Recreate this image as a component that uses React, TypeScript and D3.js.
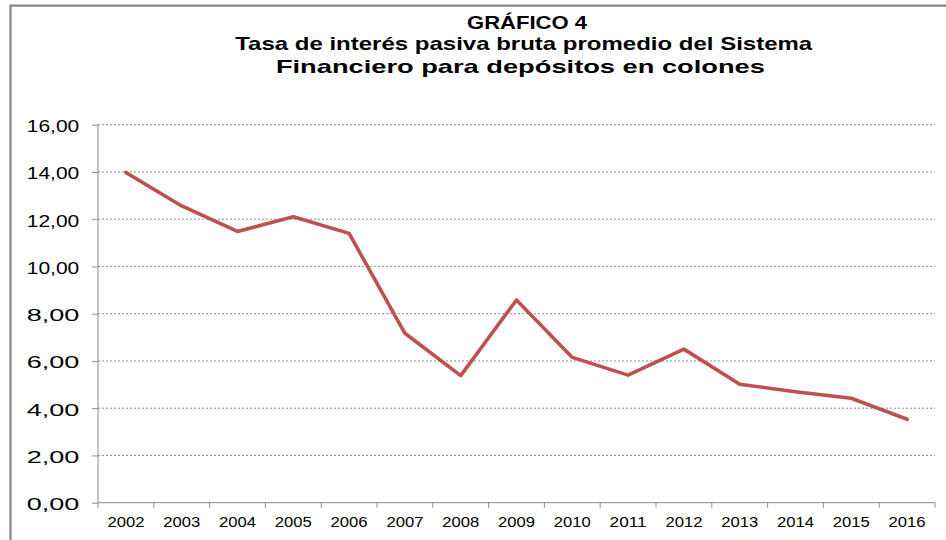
import React, { useEffect, useRef } from 'react';
import * as d3 from 'd3';

const years = ['2002', '2003', '2004', '2005', '2006', '2007', '2008', '2009', '2010', '2011', '2012', '2013', '2014', '2015', '2016'];
const tasa = [13.98, 12.56, 11.48, 12.1, 11.4, 7.17, 5.38, 8.58, 6.15, 5.4, 6.5, 5.01, 4.7, 4.42, 3.53];
const yTicks = [0, 2, 4, 6, 8, 10, 12, 14, 16];
const titleLines = [
  'GRÁFICO 4',
  'Tasa de interés pasiva bruta promedio del Sistema',
  'Financiero para depósitos en colones',
];

const App = () => {
  const svgRef = useRef<SVGSVGElement>(null);

  useEffect(() => {
    const svg = d3.select(svgRef.current);
    svg.selectAll('*').remove();

    const width = 946;
    const height = 540;
    const plot = { left: 98, right: 935, top: 124.7, bottom: 502.7 };

    svg.attr('width', width).attr('height', height);

    // marco del gráfico
    svg.append('path')
      .attr('d', `M10.5,${height} L10.5,5.7 L${width},5.7`)
      .attr('fill', 'none')
      .attr('stroke', '#878787')
      .attr('stroke-width', 2.2);

    // títulos
    const titleSpecs = [
      { x: 527, y: 29, len: 120 },
      { x: 523.7, y: 49.5, len: 577 },
      { x: 520.4, y: 72.7, len: 489 },
    ];
    titleLines.forEach((t, i) => {
      svg.append('text')
        .attr('x', titleSpecs[i].x)
        .attr('y', titleSpecs[i].y)
        .attr('text-anchor', 'middle')
        .attr('font-family', 'Liberation Sans, Arial, sans-serif')
        .attr('font-weight', 'bold')
        .attr('font-size', 18.5)
        .attr('textLength', titleSpecs[i].len)
        .attr('lengthAdjust', 'spacingAndGlyphs')
        .attr('fill', '#000')
        .text(t);
    });

    const x = d3.scaleBand<string>()
      .domain(years)
      .range([plot.left, plot.right])
      .padding(0);

    const y = d3.scaleLinear()
      .domain([0, 16])
      .range([plot.bottom, plot.top]);

    // líneas de cuadrícula
    svg.append('g')
      .selectAll('line')
      .data(yTicks.filter(d => d > 0))
      .enter().append('line')
      .attr('x1', plot.left)
      .attr('x2', plot.right)
      .attr('y1', d => y(d))
      .attr('y2', d => y(d))
      .attr('stroke', '#8c8c8c')
      .attr('stroke-width', 1)
      .attr('stroke-dasharray', '2,2');

    // eje Y
    const fmt = (d: number) => d.toFixed(2).replace('.', ',');
    const yAxis = svg.append('g')
      .attr('transform', `translate(${plot.left},0)`)
      .call(d3.axisLeft(y).tickValues(yTicks).tickSize(6).tickPadding(0).tickFormat(d => fmt(+d)));
    yAxis.select('.domain').attr('stroke', '#8c8c8c').attr('d', `M0,${plot.top}V${plot.bottom}`);
    yAxis.selectAll('.tick line').attr('stroke', '#8c8c8c');
    yAxis.selectAll('.tick text')
      .attr('x', -18.7)
      .attr('dy', '0.41em')
      .attr('fill', '#000')
      .attr('font-family', 'Liberation Sans, Arial, sans-serif')
      .attr('font-size', 17)
      .attr('textLength', 52.6)
      .attr('lengthAdjust', 'spacingAndGlyphs');

    // eje X
    const xg = svg.append('g');
    xg.append('line')
      .attr('x1', plot.left)
      .attr('x2', plot.right)
      .attr('y1', plot.bottom)
      .attr('y2', plot.bottom)
      .attr('stroke', '#8c8c8c');
    const edges = years.map(d => x(d) as number).concat([(x(years[years.length - 1]) as number) + x.bandwidth()]);
    xg.selectAll('.xtick')
      .data(edges)
      .enter().append('line')
      .attr('class', 'xtick')
      .attr('x1', d => d)
      .attr('x2', d => d)
      .attr('y1', plot.bottom)
      .attr('y2', plot.bottom + 5)
      .attr('stroke', '#8c8c8c');
    xg.selectAll('.xlabel')
      .data(years)
      .enter().append('text')
      .attr('class', 'xlabel')
      .attr('x', d => (x(d) as number) + x.bandwidth() / 2)
      .attr('y', 526.7)
      .attr('text-anchor', 'middle')
      .attr('font-family', 'Liberation Sans, Arial, sans-serif')
      .attr('font-size', 15)
      .attr('textLength', 37)
      .attr('lengthAdjust', 'spacingAndGlyphs')
      .attr('fill', '#000')
      .text(d => d);

    // serie
    const line = d3.line<number>()
      .x((_, i) => (x(years[i]) as number) + x.bandwidth() / 2)
      .y(d => y(d));

    svg.append('path')
      .datum(tasa)
      .attr('d', line)
      .attr('fill', 'none')
      .attr('stroke', '#C0504D')
      .attr('stroke-width', 3.6)
      .attr('stroke-linejoin', 'round')
      .attr('stroke-linecap', 'round');
  }, []);

  return <svg ref={svgRef} style={{ position: 'absolute', left: 0, top: 0, background: '#fff' }}></svg>;
};

export default App;
